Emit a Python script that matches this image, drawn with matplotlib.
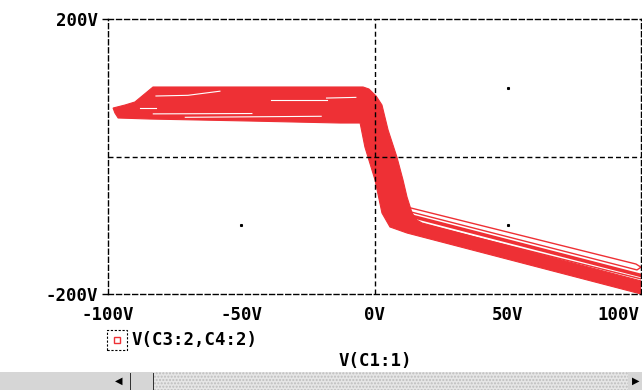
import matplotlib
matplotlib.use("Agg")
import matplotlib.pyplot as plt
from matplotlib.patches import Rectangle

# ---- data ----
X_TICKS = [-100, -50, 0, 50, 100]
X_TICK_LABELS = ["-100V", "-50V", "0V", "50V", "100V"]
Y_TICKS = [-200, 200]
Y_TICK_LABELS = ["-200V", "200V"]
TRACE_NAME = "V(C3:2,C4:2)"
X_NAME = "V(C1:1)"

# outline of the densely overlapped trace region
BAND_X = [-98.1, -93.6, -89.9, -83.1, -4.3, -2.1, 0.6, 2.8, 5.1, 8.4, 10.7, 12.2,
          14.1, 15.9, 17.8, 100, 100, 12.2, 5.8, 2.8, 0.2, -3.6, -5.4, -12.9,
          -46.7, -84.2, -96.2, -97.4]
BAND_Y = [70.5, 74.9, 79.3, 101.1, 101.1, 98.2, 88, 74.9, 38.5, -0.7, -34.2, -58.9,
          -82.2, -92.4, -96.7, -181, -200, -111.3, -102.5, -82.2, -34.2, 13.8, 48.7, 48.7,
          51.6, 54.5, 56, 63.3]

# loose loops in the lower branch
LOOP1_X = [12.2, 98.1, 100, 98.5, 13.5]
LOOP1_Y = [-73.5, -156.4, -161, -165, -80.5]
LOOP2_X = [14.1, 100]
LOOP2_Y = [-87, -173]
LOOP3_X = [20.8, 100]
LOOP3_Y = [-101, -178]

# gaps between traces on the upper plateau
GAPS = [
    ([-82, -70, -58], [88, 89, 95]),
    ([-39, -18], [82.5, 82.5]),
    ([-18, -7], [85, 86]),
    ([-88, -82], [71, 71]),
    ([-83, -46], [62, 62.5]),
    ([-71, -20], [57, 58.5]),
]

# grid dots
DOT_X = [50, -50, 50]
DOT_Y = [100, -100, -100]

RED = "#ee3035"
W, H = 642, 390
FONT = dict(family="DejaVu Sans Mono", fontweight="bold", fontsize=12.5, color="black")
DASH = (0, (3.6, 2.2))


def fx(px):
    return px / W


def fy(py):
    return 1 - py / H


fig = plt.figure(figsize=(W / 100, H / 100), dpi=100)
fig.patch.set_facecolor("white")
ax = fig.add_axes([fx(108), fy(294), (641 - 108) / W, (294 - 19) / H])
ax.set_xlim(-100, 100)
ax.set_ylim(-200, 200)
ax.set_facecolor("white")

ax.fill(BAND_X, BAND_Y, color=RED, lw=0.8, zorder=2)
ax.plot(LOOP1_X, LOOP1_Y, color=RED, lw=1.0, zorder=2)
ax.plot(LOOP2_X, LOOP2_Y, color=RED, lw=2.6, zorder=2)
ax.plot(LOOP3_X, LOOP3_Y, color=RED, lw=1.0, zorder=2)
for gx, gy in GAPS:
    ax.plot(gx, gy, color="white", lw=0.8, zorder=3)
ax.plot(DOT_X, DOT_Y, ls="none", marker="s", ms=1.2, color="black", zorder=3)

ax.axhline(0, color="black", lw=1.0, ls=DASH, zorder=4)
ax.axvline(0, color="black", lw=1.0, ls=DASH, zorder=4)
for sp in ax.spines.values():
    sp.set_linestyle(DASH)
    sp.set_linewidth(1.0)
    sp.set_color("black")

ax.set_xticks(X_TICKS)
ax.set_xticklabels(X_TICK_LABELS, **FONT)
ax.set_xticks([-50, 50], minor=True)
ax.tick_params(axis="x", which="major", length=0, pad=9)
ax.tick_params(axis="x", which="minor", direction="in", length=3.5, width=1, color="black")
ax.set_yticks(Y_TICKS)
ax.set_yticklabels(Y_TICK_LABELS, **FONT)
ax.tick_params(axis="y", direction="out", length=4, width=1, pad=3)
fig.canvas.draw()
# keep 100V inside the window, as the probe does
lbl = ax.get_xticklabels()[-1]
lbl.set_horizontalalignment("right")
lbl.set_transform(lbl.get_transform() + matplotlib.transforms.ScaledTranslation(-0.02, 0, fig.dpi_scale_trans))

# legend entry
fig.patches.append(Rectangle((fx(107), fy(350)), 20 / W, 20 / H, transform=fig.transFigure,
                             fill=False, ec="black", lw=0.8, ls=(0, (2, 1.5))))
fig.patches.append(Rectangle((fx(114), fy(343)), 6 / W, 6 / H, transform=fig.transFigure,
                             fill=False, ec=RED, lw=1.0))
fig.text(fx(132), fy(340), TRACE_NAME, ha="left", va="center", **FONT)
fig.text(fx(375), fy(361), X_NAME, ha="center", va="center", **FONT)

# scrollbar strip
fig.patches.append(Rectangle((0, 0), 1, 18 / H, transform=fig.transFigure,
                             fc="#d6d6d6", ec="none"))
fig.patches.append(Rectangle((fx(154), 0), (628 - 154) / W, 18 / H, transform=fig.transFigure,
                             fc="#e6e6e6", ec="#bdbdbd", lw=0, hatch="....."))
for xline in (130, 153):
    fig.patches.append(Rectangle((fx(xline), 0), 1.2 / W, 17 / H, transform=fig.transFigure,
                                 fc="#333333", ec="none"))
fig.text(fx(119), fy(381), "\u25c0", ha="center", va="center", fontsize=7, color="black")
fig.text(fx(636), fy(381), "\u25b6", ha="center", va="center", fontsize=7, color="black")

fig.savefig("out.png", dpi=100, facecolor="white")
